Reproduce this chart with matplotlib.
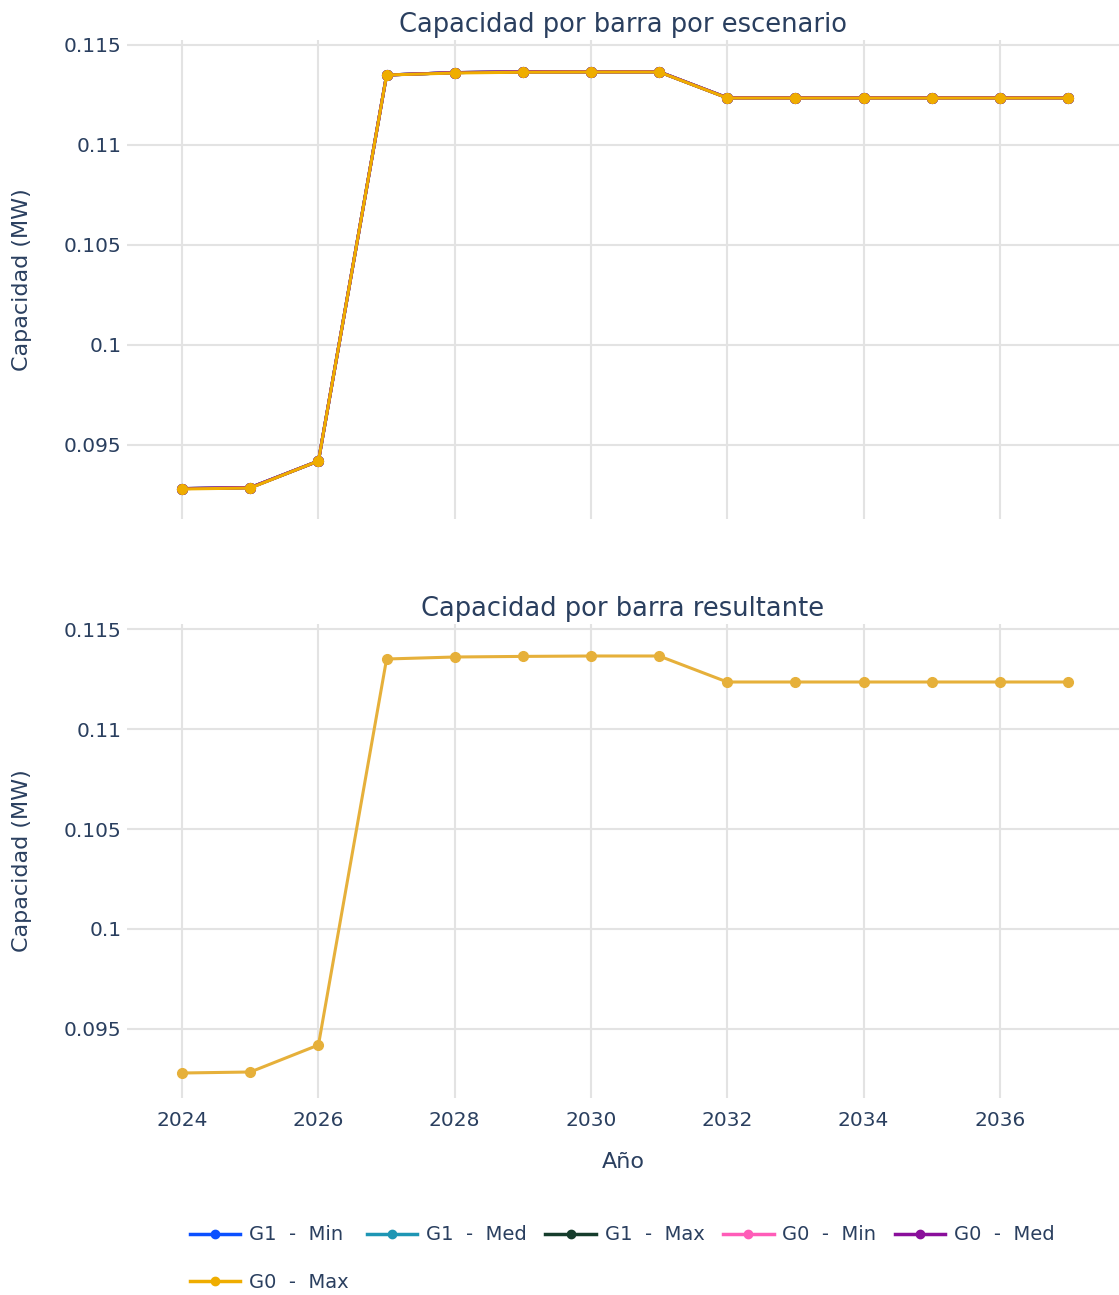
import matplotlib
matplotlib.use("Agg")
import matplotlib.pyplot as plt
from matplotlib.lines import Line2D
from matplotlib.ticker import FuncFormatter, FixedLocator

plt.rcParams['font.family'] = ['DejaVu Sans']

years = [2024, 2025, 2026, 2027, 2028, 2029, 2030, 2031, 2032, 2033, 2034, 2035, 2036, 2037]

g1_min = [0.09282, 0.09287, 0.0942, 0.1135, 0.11362, 0.11366, 0.11366, 0.11366, 0.11236, 0.11236, 0.11236, 0.11236, 0.11236, 0.11236]
g1_med = [0.09282, 0.09287, 0.0942, 0.1135, 0.11362, 0.11366, 0.11366, 0.11366, 0.11236, 0.11236, 0.11236, 0.11236, 0.11236, 0.11236]
g1_max = [0.09282, 0.09287, 0.0942, 0.1135, 0.11362, 0.11366, 0.11366, 0.11366, 0.11236, 0.11236, 0.11236, 0.11236, 0.11236, 0.11236]
g0_min = [0.09282, 0.09287, 0.0942, 0.1135, 0.11362, 0.11366, 0.11366, 0.11366, 0.11236, 0.11236, 0.11236, 0.11236, 0.11236, 0.11236]
g0_med = [0.09282, 0.09287, 0.0942, 0.1135, 0.11362, 0.11366, 0.11366, 0.11366, 0.11236, 0.11236, 0.11236, 0.11236, 0.11236, 0.11236]
g0_max = [0.0928, 0.09285, 0.0942, 0.1135, 0.11360, 0.11364, 0.11365, 0.11365, 0.11235, 0.11235, 0.11235, 0.11235, 0.11235, 0.11235]
resultante = [0.0928, 0.09285, 0.0942, 0.1135, 0.11360, 0.11363, 0.11365, 0.11365, 0.11235, 0.11235, 0.11235, 0.11235, 0.11235, 0.11235]

series_labels = ["G1  -  Min", "G1  -  Med", "G1  -  Max", "G0  -  Min", "G0  -  Med", "G0  -  Max"]
series_values = [g1_min, g1_med, g1_max, g0_min, g0_med, g0_max]
series_colors = ["#0B50FF", "#1E96B4", "#163D2C", "#FF5CB8", "#8A0F9B", "#EFAD00"]
result_color = "#E6B03A"

y_ticks = [0.095, 0.1, 0.105, 0.11, 0.115]
x_ticks = [2024, 2026, 2028, 2030, 2032, 2034, 2036]

text_color = "#2A3F5F"
grid_color = "#E3E3E3"

W, H = 1119, 1295
fig = plt.figure(figsize=(W / 100, H / 100), dpi=100)

def frac(l, t, r, b):
    return [l / W, 1 - b / H, (r - l) / W, (b - t) / H]

ax1 = fig.add_axes(frac(127, 40, 1119, 519))
ax2 = fig.add_axes(frac(127, 624, 1119, 1098))

for ax in (ax1, ax2):
    ax.set_xlim(2023.19, 2037.75)
    ax.xaxis.set_major_locator(FixedLocator(x_ticks))
    ax.yaxis.set_major_locator(FixedLocator(y_ticks))
    ax.yaxis.set_major_formatter(FuncFormatter(lambda v, p: f"{v:g}"))
    ax.grid(True, color=grid_color, linewidth=1.5)
    ax.set_axisbelow(True)
    for s in ax.spines.values():
        s.set_visible(False)
    ax.tick_params(length=0, labelsize=14.5, labelcolor=text_color)
    ax.tick_params(axis='y', pad=4)
    ax.tick_params(axis='x', pad=9)
    ax.set_ylabel("Capacidad (MW)", fontsize=16, color=text_color, labelpad=23)

ax1.set_ylim(0.0913, 0.11525)
ax2.set_ylim(0.09155, 0.11525)
ax1.tick_params(labelbottom=False)

for vals, lab, col in zip(series_values, series_labels, series_colors):
    ax1.plot(years, vals, color=col, linewidth=2.2, marker='o', markersize=7, label=lab)

ax2.plot(years, resultante, color=result_color, linewidth=2.2, marker='o', markersize=7)

ax1.set_title("Capacidad por barra por escenario", fontsize=18.5, color=text_color, pad=6)
ax2.set_title("Capacidad por barra resultante", fontsize=18.5, color=text_color, pad=6)
ax2.set_xlabel("Año", fontsize=16, color=text_color, labelpad=16)

handles = [Line2D([0], [0], color=c, linewidth=2.5, marker='o', markersize=6) for c in series_colors]
order = [0, 5, 1, 2, 3, 4]
fig.legend([handles[i] for i in order], [series_labels[i] for i in order],
           loc='upper left', bbox_to_anchor=(172 / W, 1 - 1208 / H), ncol=5,
           frameon=False, fontsize=14, labelcolor=text_color,
           handlelength=2.6, handletextpad=0.45, columnspacing=0.95, labelspacing=1.45)

fig.savefig("out.png", dpi=100, facecolor="white")
